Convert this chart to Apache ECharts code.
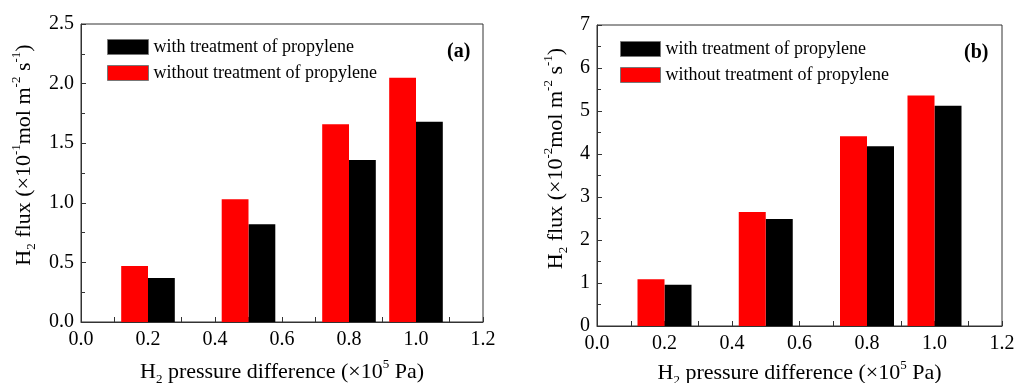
<!DOCTYPE html>
<html>
<head>
<meta charset="utf-8">
<script src="https://cdn.jsdelivr.net/npm/echarts@6/dist/echarts.min.js"></script>
<style>
  html, body { margin: 0; padding: 0; background: #fff; }
  #chart { width: 1015px; height: 383px; }
</style>
</head>
<body>
<div id="chart"></div>
<script>
// pressure difference (x 10^5 Pa)
var pressure = [0.2, 0.5, 0.8, 1.0];
// panel (a): H2 flux (x 10^-1 mol m-2 s-1)
var fluxA_with = [0.37, 0.82, 1.36, 1.68];
var fluxA_without = [0.47, 1.03, 1.66, 2.05];
// panel (b): H2 flux (x 10^-2 mol m-2 s-1)
var fluxB_with = [0.96, 2.49, 4.18, 5.12];
var fluxB_without = [1.09, 2.65, 4.41, 5.36];

var nameWith = "with treatment of propylene";
var nameWithout = "without treatment of propylene";

var FONT = "Liberation Serif";
var BAR_W = 0.08; // bar width in axis units

function pairs(xs, ys) {
  return xs.map(function (x, i) { return [x, ys[i]]; });
}

// side: -1 bar left of x, +1 bar right of x
function barRenderer(side) {
  return function (params, api) {
    var x = api.value(0), y = api.value(1);
    var a = api.coord([side < 0 ? x - BAR_W : x, y]);
    var b = api.coord([side < 0 ? x : x + BAR_W, 0]);
    return {
      type: "rect",
      shape: { x: a[0], y: a[1], width: b[0] - a[0], height: b[1] - a[1] },
      style: api.style()
    };
  };
}

var richName = function (size) {
  return {
    t: { fontFamily: FONT, fontSize: size, color: "#000", lineHeight: size + 6 },
    sub: { fontFamily: FONT, fontSize: Math.round(size * 0.6), color: "#000", verticalAlign: "bottom", lineHeight: Math.round(size * 0.6) },
    sup: { fontFamily: FONT, fontSize: Math.round(size * 0.6), color: "#000", verticalAlign: "top", lineHeight: Math.round(size * 0.6) }
  };
};

function xAxisFor(gridIndex, gap) {
  return {
    type: "value",
    gridIndex: gridIndex,
    min: 0,
    max: 1.2,
    interval: 0.2,
    name: "{t|H}{sub|2}{t| pressure difference (\u00d710}{sup|5}{t| Pa)}",
    nameLocation: "middle",
    nameGap: gap,
    nameTextStyle: { rich: richName(22) },
    axisLine: { show: true, lineStyle: { color: "#333", width: 1 } },
    axisTick: { show: true, inside: true, length: 5, lineStyle: { color: "#333" } },
    minorTick: { show: true, splitNumber: 2, length: 5, lineStyle: { color: "#333" } },
    splitLine: { show: false },
    axisLabel: {
      color: "#000", fontFamily: FONT, fontSize: 20, margin: 8,
      formatter: function (v) { return v.toFixed(1); }
    }
  };
}

function yAxisFor(gridIndex, max, interval, exp, gap, shift) {
  return {
    type: "value",
    gridIndex: gridIndex,
    min: 0,
    max: max,
    interval: interval,
    name: "{t|H}{sub|2}{t| flux (\u00d710}{sup|" + exp + "}{t|mol m}{sup|-2}{t| s}{sup|-1}{t|)}",
    nameLocation: "middle",
    nameRotate: 90,
    nameGap: gap,
    nameTextStyle: { rich: richName(22), padding: [0, 0, 0, shift] },
    axisLine: { show: true, lineStyle: { color: "#333", width: 1 } },
    axisTick: { show: true, inside: true, length: 5, lineStyle: { color: "#333" } },
    minorTick: { show: true, splitNumber: 2, length: 4, lineStyle: { color: "#333" } },
    splitLine: { show: false },
    axisLabel: {
      color: "#000", fontFamily: FONT, fontSize: 20, margin: 7,
      formatter: function (v) { return interval < 1 ? v.toFixed(1) : String(v); }
    }
  };
}

function legendFor(left, top, width, names) {
  return {
    orient: "vertical",
    left: left,
    top: top,
    padding: 0,
    itemWidth: width,
    itemHeight: 15,
    itemGap: 8,
    icon: "rect",
    data: names,
    selectedMode: false,
    itemStyle: { borderColor: "#777", borderWidth: 1 },
    textStyle: { fontFamily: FONT, fontSize: 18, color: "#000" }
  };
}

var chart = echarts.init(document.getElementById("chart"));

var option = {
  animation: false,
  backgroundColor: "#fff",
  title: [
    { text: "(a)", left: 442, top: 37, textStyle: { fontFamily: FONT, fontWeight: "bold", fontSize: 20, color: "#000" } },
    { text: "(b)", left: 959, top: 38, textStyle: { fontFamily: FONT, fontWeight: "bold", fontSize: 20, color: "#000" } }
  ],
  legend: [
    legendFor(107, 38, 41, ["a_with", "a_without"]),
    legendFor(620, 40, 40, ["b_with", "b_without"])
  ],
  grid: [
    { left: 81, top: 24, width: 402, height: 298, show: true, borderColor: "#333", borderWidth: 1, outerBoundsMode: "none" },
    { left: 597, top: 25, width: 405, height: 301, show: true, borderColor: "#333", borderWidth: 1, outerBoundsMode: "none" }
  ],
  xAxis: [xAxisFor(0, 36), xAxisFor(1, 32)],
  yAxis: [
    yAxisFor(0, 2.5, 0.5, "-1", 43, 36),
    yAxisFor(1, 7, 1, "-2", 27, 34)
  ],
  series: [
    { id: "a_with", name: "a_with", type: "custom", xAxisIndex: 0, yAxisIndex: 0, renderItem: barRenderer(1), itemStyle: { color: "#000" }, encode: { x: 0, y: 1 }, data: pairs(pressure, fluxA_with) },
    { id: "a_without", name: "a_without", type: "custom", xAxisIndex: 0, yAxisIndex: 0, renderItem: barRenderer(-1), itemStyle: { color: "#ff0000" }, encode: { x: 0, y: 1 }, data: pairs(pressure, fluxA_without) },
    { id: "b_with", name: "b_with", type: "custom", xAxisIndex: 1, yAxisIndex: 1, renderItem: barRenderer(1), itemStyle: { color: "#000" }, encode: { x: 0, y: 1 }, data: pairs(pressure, fluxB_with) },
    { id: "b_without", name: "b_without", type: "custom", xAxisIndex: 1, yAxisIndex: 1, renderItem: barRenderer(-1), itemStyle: { color: "#ff0000" }, encode: { x: 0, y: 1 }, data: pairs(pressure, fluxB_without) }
  ]
};

option.legend.forEach(function (lg) {
  lg.formatter = function (n) { return n.slice(2) === "with" ? nameWith : nameWithout; };
});

chart.setOption(option);
</script>
</body>
</html>
